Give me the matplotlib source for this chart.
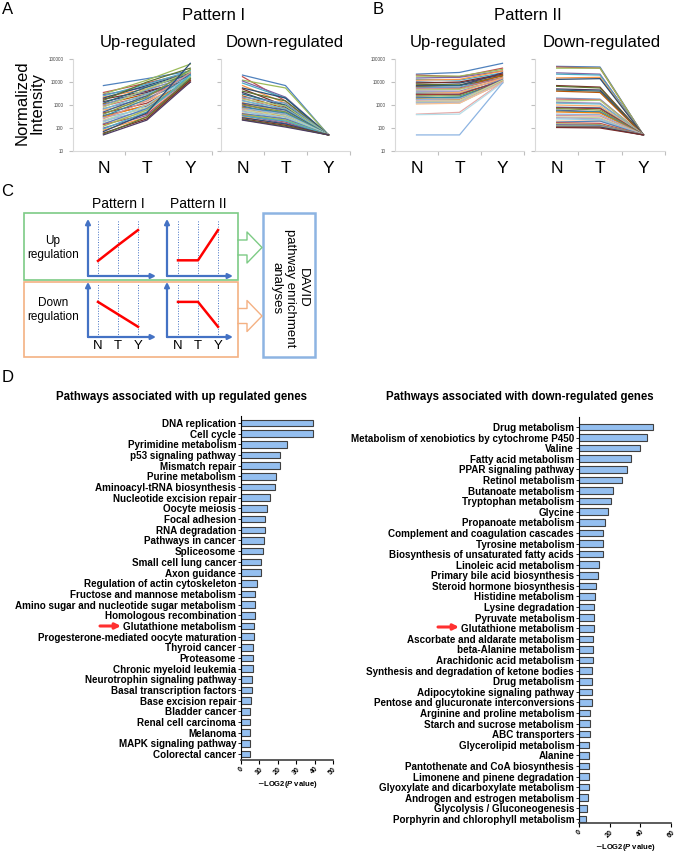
import numpy as np
import matplotlib
matplotlib.use('Agg')
import matplotlib.pyplot as plt
from matplotlib.patches import Rectangle
from matplotlib.ticker import FixedLocator, NullLocator

plt.rcParams['font.family'] = ['Liberation Sans', 'DejaVu Sans']
plt.rcParams['mathtext.fontset'] = 'custom'
plt.rcParams['mathtext.it'] = 'Liberation Sans:italic:bold'

# ---- panel A / B : normalized intensity of genes at N, T, Y ----
stages = ['N', 'T', 'Y']

p1_up_n = [7000, 3500, 3000, 2800, 2500, 2200, 2000, 1800, 1600, 1400, 1200, 1100, 1000, 900,
           800, 700, 650, 600, 500, 450, 400, 350, 320, 300, 280, 250, 220, 200, 180, 160,
           150, 140, 120, 100, 90, 80, 70, 60, 55, 50]
p1_up_t = [14000, 9000, 12000, 6000, 8000, 5000, 7000, 4000, 10000, 3500, 6000, 3000, 4500, 2500,
           5000, 2000, 3000, 1500, 2500, 1200, 2200, 900, 1800, 1000, 700, 1500, 800, 600, 1000, 500,
           700, 400, 600, 350, 500, 300, 450, 250, 300, 220]
p1_up_y = [30000, 25000, 60000, 20000, 30000, 15000, 25000, 12000, 40000, 14000, 22000, 11000, 18000,
           13000, 28000, 12000, 16000, 10000, 20000, 11000, 35000, 10000, 15000, 12000, 10000, 25000,
           13000, 11000, 18000, 10000, 14000, 12000, 16000, 10000, 20000, 11000, 65000, 12000, 14000, 10000]

p1_dn_n = [20000, 17000, 12000, 11000, 9000, 7000, 5500, 5000, 4000, 3500, 3000, 2500, 2200, 2000,
           1800, 1600, 1500, 1300, 1200, 1100, 1000, 900, 800, 750, 700, 650, 600, 550, 500, 450,
           420, 400, 380, 350, 330, 300, 280, 250, 230, 220]
p1_dn_t = [7000, 1500, 5500, 2200, 2000, 1200, 2000, 900, 1500, 800, 1000, 700, 1200, 600, 900, 500,
           700, 450, 600, 400, 500, 350, 450, 300, 400, 250, 350, 220, 300, 200, 250, 180, 220, 160,
           200, 140, 150, 130, 120, 110]
p1_dn_y = [50] * 40

p2_up_n = [22000, 20000, 18000, 15000, 13000, 12000, 10000, 9000, 8000, 7000, 6500, 6000, 5500, 5000,
           4500, 4000, 3500, 3200, 3000, 2800, 2500, 2200, 2000, 1800, 1700, 1500, 1400, 1300, 1200,
           1100, 400, 380, 50]
p2_up_t = [26000, 17000, 18000, 16000, 12000, 13000, 9000, 10000, 7500, 7000, 7000, 5500, 6000, 5000,
           4800, 4000, 3500, 3500, 2800, 3000, 2500, 2000, 2200, 1800, 1900, 1500, 1500, 1300, 1200,
           1200, 480, 400, 50]
p2_up_y = [65000, 40000, 35000, 30000, 25000, 30000, 20000, 22000, 18000, 25000, 15000, 20000, 14000,
           16000, 12000, 13000, 10000, 15000, 12000, 11000, 10000, 12000, 10000, 11000, 9500, 10000,
           12000, 9000, 10000, 9500, 10000, 9000, 9000]

p2_dn_n = [48000, 45000, 40000, 25000, 22000, 15000, 13000, 7000, 6500, 5000, 4500, 4000, 2000, 1800,
           1500, 1300, 1200, 1000, 800, 750, 700, 600, 550, 500, 400, 350, 300, 280, 250, 200, 180,
           170, 150, 140, 130, 120, 110, 105]
p2_dn_t = [45000, 40000, 40000, 22000, 20000, 16000, 14000, 6000, 5500, 4500, 4000, 3500, 1800, 1700,
           1600, 1200, 1100, 900, 750, 700, 600, 500, 500, 450, 380, 330, 280, 250, 230, 200, 200,
           160, 140, 130, 120, 115, 110, 100]
p2_dn_y = [50] * 38

# ---- panel C : schematic levels ----
scheme_p1_up = [0.27, 0.55, 0.82]
scheme_p2_up = [0.28, 0.28, 0.82]
scheme_p1_dn = [0.65, 0.42, 0.19]
scheme_p2_dn = [0.65, 0.65, 0.19]

# ---- panel D : pathway enrichment ----
up_paths = ['DNA replication', 'Cell cycle', 'Pyrimidine metabolism', 'p53 signaling pathway',
            'Mismatch repair', 'Purine metabolism', 'Aminoacyl-tRNA biosynthesis',
            'Nucleotide excision repair', 'Oocyte meiosis', 'Focal adhesion', 'RNA degradation',
            'Pathways in cancer', 'Spliceosome', 'Small cell lung cancer', 'Axon guidance',
            'Regulation of actin cytoskeleton', 'Fructose and mannose metabolism',
            'Amino sugar and nucleotide sugar metabolism', 'Homologous recombination',
            'Glutathione metabolism', 'Progesterone-mediated oocyte maturation', 'Thyroid cancer',
            'Proteasome', 'Chronic myeloid leukemia', 'Neurotrophin signaling pathway',
            'Basal transcription factors', 'Base excision repair', 'Bladder cancer',
            'Renal cell carcinoma', 'Melanoma', 'MAPK signaling pathway', 'Colorectal cancer']
up_vals = [39.1, 39.1, 25.0, 21.4, 21.0, 18.8, 18.5, 15.6, 14.1, 13.0, 13.0, 12.5, 12.0, 10.7, 10.7,
           8.5, 7.6, 7.4, 7.4, 6.9, 6.9, 6.7, 6.7, 6.3, 5.8, 5.8, 5.4, 4.9, 4.9, 4.7, 4.7, 4.7]

dn_paths = ['Drug metabolism', 'Metabolism of xenobiotics by cytochrome P450', 'Valine',
            'Fatty acid metabolism', 'PPAR signaling pathway', 'Retinol metabolism',
            'Butanoate metabolism', 'Tryptophan metabolism', 'Glycine', 'Propanoate metabolism',
            'Complement and coagulation cascades', 'Tyrosine metabolism',
            'Biosynthesis of unsaturated fatty acids', 'Linoleic acid metabolism',
            'Primary bile acid biosynthesis', 'Steroid hormone biosynthesis', 'Histidine metabolism',
            'Lysine degradation', 'Pyruvate metabolism', 'Glutathione metabolism',
            'Ascorbate and aldarate metabolism', 'beta-Alanine metabolism',
            'Arachidonic acid metabolism', 'Synthesis and degradation of ketone bodies',
            'Drug metabolism', 'Adipocytokine signaling pathway',
            'Pentose and glucuronate interconversions', 'Arginine and proline metabolism',
            'Starch and sucrose metabolism', 'ABC transporters', 'Glycerolipid metabolism', 'Alanine',
            'Pantothenate and CoA biosynthesis', 'Limonene and pinene degradation',
            'Glyoxylate and dicarboxylate metabolism', 'Androgen and estrogen metabolism',
            'Glycolysis / Gluconeogenesis', 'Porphyrin and chlorophyll metabolism']
dn_vals = [48.4, 44.1, 40.1, 33.6, 31.4, 28.1, 22.3, 20.7, 19.0, 16.8, 15.9, 15.7, 15.5, 13.3, 12.4,
           11.1, 10.5, 10.0, 10.0, 9.6, 9.4, 9.2, 8.9, 8.5, 8.3, 8.3, 8.3, 7.4, 7.4, 7.0, 6.8, 6.8,
           6.5, 6.5, 6.3, 5.9, 5.2, 4.6]

EXCEL = ['#4F81BD', '#C0504D', '#9BBB59', '#8064A2', '#4BACC6', '#F79646',
         '#2C4D75', '#772C2A', '#5F7530', '#4D3B62', '#276A7C', '#B65708',
         '#729ACA', '#CD7371', '#AFC97A', '#9983B5', '#6FBDD1', '#F9AB6B',
         '#3A6595', '#9E3A38', '#7E9A40', '#664F83', '#358EA6', '#F07F09',
         '#95B3D7', '#D99694', '#C3D69B', '#B3A2C7', '#93CDDD', '#FAC090']
BLUE = '#4472C4'
BAR = '#94BFF0'

W, H = 675, 852
fig = plt.figure(figsize=(W / 100, H / 100), dpi=100)


def rect(x0, y0, x1, y1):
    return [x0 / W, 1 - y1 / H, (x1 - x0) / W, (y1 - y0) / H]


ov = fig.add_axes([0, 0, 1, 1])
ov.set_xlim(0, W)
ov.set_ylim(H, 0)
ov.axis('off')


def line_panel(r, n, t, y, xmin, show_labels, colors=None):
    ax = fig.add_axes(rect(*r))
    if colors is None:
        colors = [EXCEL[i % len(EXCEL)] for i in range(len(n))]
    for vals, c in zip(zip(n, t, y), colors):
        ax.plot(range(3), vals, color=c, lw=0.9)
    ax.set_yscale('log')
    ax.set_ylim(10, 100000)
    ax.set_xlim(xmin, 2.5)
    ax.yaxis.set_major_locator(FixedLocator([10, 100, 1000, 10000, 100000]))
    ax.yaxis.set_minor_locator(NullLocator())
    if show_labels:
        ax.set_yticklabels(['10', '100', '1000', '10000', '100000'])
    else:
        ax.set_yticklabels([])
    ax.set_xticks([0.5, 1.5, 2.5])
    ax.set_xticklabels([])
    ax.set_xticks(range(3), minor=True)
    ax.set_xticklabels(stages, minor=True)
    ax.tick_params(axis='x', which='major', length=3, color='#BFBFBF')
    ax.tick_params(axis='x', which='minor', length=0, labelsize=12.5, pad=7)
    ax.tick_params(axis='y', length=3, color='#BFBFBF', labelsize=3.3, pad=4, labelcolor='#404040')
    for s in ['top', 'right']:
        ax.spines[s].set_visible(False)
    for s in ['left', 'bottom']:
        ax.spines[s].set_color('#D9D9D9')
    return ax


p2_up_colors = [EXCEL[i % len(EXCEL)] for i in range(len(p2_up_n) - 3)] + ['#E6A9A7', '#B7DEE8', '#8DB4E2']

line_panel((73, 59, 212, 151), p1_up_n, p1_up_t, p1_up_y, -0.7, True)
line_panel((221, 59, 350, 151), p1_dn_n, p1_dn_t, p1_dn_y, -0.5, False)
line_panel((395, 59, 524, 151), p2_up_n, p2_up_t, p2_up_y, -0.5, True, p2_up_colors)
line_panel((535, 59, 665, 151), p2_dn_n, p2_dn_t, p2_dn_y, -0.5, False)

ov.text(8, 9, 'A', fontsize=12, ha='center', va='center')
ov.text(378, 9, 'B', fontsize=12, ha='center', va='center')
ov.text(214, 16, 'Pattern I', fontsize=12, ha='center', va='center')
ov.text(528, 16, 'Pattern II', fontsize=12, ha='center', va='center')
for x, s in [(148, 'Up-regulated'), (285, 'Down-regulated'), (458, 'Up-regulated'), (602, 'Down-regulated')]:
    ov.text(x, 42, s, fontsize=12, ha='center', va='center')
ov.text(30, 103, 'Normalized\nIntensity', fontsize=12, ha='center', va='center', rotation=90,
        linespacing=1.0)

# ---- panel C ----
ov.text(7, 192, 'C', fontsize=12, ha='center', va='center')
ov.text(118, 204, 'Pattern I', fontsize=10, ha='center', va='center')
ov.text(198, 204, 'Pattern II', fontsize=10, ha='center', va='center')
ov.text(53, 248, 'Up\nregulation', fontsize=8.5, ha='center', va='center', linespacing=1.3)
ov.text(53, 310, 'Down\nregulation', fontsize=8.5, ha='center', va='center', linespacing=1.3)
ov.add_patch(Rectangle((24, 213), 214, 67, fill=False, ec='#7DCB85', lw=1.2))
ov.add_patch(Rectangle((24, 282), 214, 75, fill=False, ec='#F4B183', lw=1.2))
ov.add_patch(Rectangle((263, 213), 52, 144, fill=False, ec='#8DB4E2', lw=1.8))
for yc, col in [(247.5, '#7DCB85'), (316, '#F4B183')]:
    xs = [238, 247, 247, 262, 247, 247, 238]
    ys = [yc - 7.5, yc - 7.5, yc - 15.5, yc, yc + 15.5, yc + 7.5, yc + 7.5]
    ov.plot(xs, ys, color=col, lw=1.0)
ov.text(290, 288, 'DAVID\npathway enrichment\nanalyses', fontsize=9.5, ha='center', va='center',
        rotation=-90, linespacing=1.15)

minis = [((88, 220, 156, 276), (-0.5, 2.9), scheme_p1_up, False),
         ((167, 220, 233, 276), (-0.55, 2.75), scheme_p2_up, False),
         ((88, 283, 156, 337), (-0.5, 2.9), scheme_p1_dn, True),
         ((167, 283, 233, 337), (-0.55, 2.75), scheme_p2_dn, True)]
for r, xl, lv, lab in minis:
    m = fig.add_axes(rect(*r))
    m.set_xlim(*xl)
    m.set_ylim(0, 1)
    for x in range(3):
        m.axvline(x, color=BLUE, ls=':', lw=0.7)
    m.plot(range(3), lv, color='red', lw=1.8)
    m.annotate('', xy=(xl[0], 1.02), xytext=(xl[0], 0),
               arrowprops=dict(arrowstyle='-|>', color=BLUE, lw=1.6, mutation_scale=7,
                               shrinkA=0, shrinkB=0), annotation_clip=False)
    m.annotate('', xy=(xl[1], 0), xytext=(xl[0], 0),
               arrowprops=dict(arrowstyle='-|>', color=BLUE, lw=1.6, mutation_scale=7,
                               shrinkA=0, shrinkB=0), annotation_clip=False)
    for s in m.spines.values():
        s.set_visible(False)
    m.set_yticks([])
    m.patch.set_alpha(0)
    if lab:
        m.set_xticks(range(3))
        m.set_xticklabels(stages, fontsize=9.5)
        m.tick_params(axis='x', length=0, pad=2)
    else:
        m.set_xticks([])

# ---- panel D ----
ov.text(8, 378, 'D', fontsize=12, ha='center', va='center')
ov.text(182, 397, 'Pathways associated with up regulated genes', fontsize=8.3,
        fontweight='bold', ha='center', va='center')
ov.text(520, 397, 'Pathways associated with down-regulated genes', fontsize=8.3,
        fontweight='bold', ha='center', va='center')


def bar_panel(r, names, vals, ylim, xmax, step):
    ax = fig.add_axes(rect(*r))
    pos = np.arange(len(names))
    ax.barh(pos, vals, height=0.62, color=BAR, edgecolor='#404040', lw=0.8)
    ax.set_ylim(*ylim)
    ax.set_xlim(0, xmax)
    ax.set_yticks(pos)
    ax.set_yticklabels(names, fontsize=7.1, fontweight='bold')
    ax.set_xticks(np.arange(0, xmax + 1, step))
    ax.tick_params(axis='y', length=2, width=0.6, pad=1.5)
    ax.tick_params(axis='x', length=3, width=0.8, labelsize=5, pad=1)
    for lbl in ax.get_xticklabels():
        lbl.set_rotation(45)
        lbl.set_fontweight('bold')
    ax.set_xlabel(r'$-$LOG2($\mathit{P}$ value)', fontsize=5.5, fontweight='bold', labelpad=2)
    for s in ['top', 'right']:
        ax.spines[s].set_visible(False)
    ax.spines['left'].set_linewidth(0.8)
    ax.spines['bottom'].set_linewidth(1.2)
    ax.spines['bottom'].set_color('#404040')
    return ax


bar_panel((241, 416, 333, 760), up_paths, up_vals, (31.56, -0.66), 50, 10)
bar_panel((579, 417, 671, 823), dn_paths, dn_vals, (37.38, -0.94), 60, 20)

for x0, x1, y in [(100, 121, 626), (438, 459, 627)]:
    ov.annotate('', xy=(x1, y), xytext=(x0, y),
                arrowprops=dict(arrowstyle='-|>', color='#FF3030', lw=2.2, mutation_scale=8,
                                shrinkA=0, shrinkB=0))

fig.savefig('out.png', dpi=100)
